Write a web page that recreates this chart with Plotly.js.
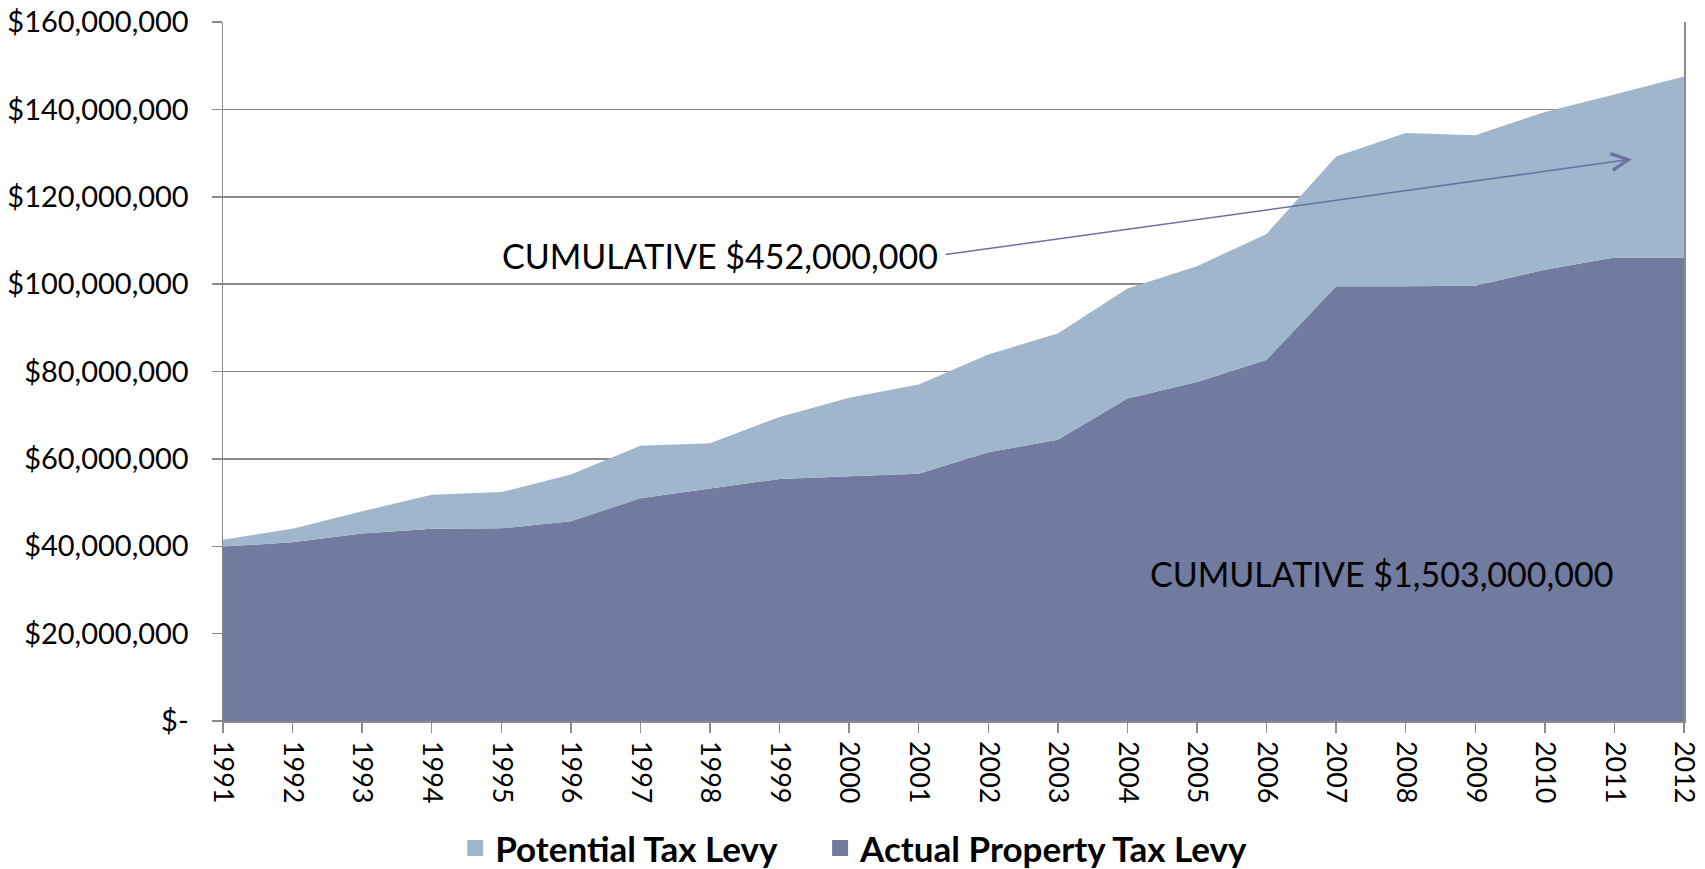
<!DOCTYPE html>
<html>
<head>
<meta charset="utf-8">
<script src="https://cdn.plot.ly/plotly-3.0.1.min.js"></script>
<style>
  html, body { margin: 0; padding: 0; background: #ffffff; }
  #chart { width: 1705px; height: 869px; }
</style>
</head>
<body>
<div id="chart"></div>
<script>
// ---- Data ----
const years = ["1991","1992","1993","1994","1995","1996","1997","1998","1999","2000","2001",
               "2002","2003","2004","2005","2006","2007","2008","2009","2010","2011","2012"];

// Actual Property Tax Levy (dollars)
const actualLevy = [39.9e6, 40.9e6, 42.9e6, 44.0e6, 44.1e6, 45.7e6, 51.0e6, 53.2e6, 55.4e6, 56.0e6, 56.6e6,
                    61.5e6, 64.4e6, 73.8e6, 77.6e6, 82.7e6, 99.5e6, 99.5e6, 99.6e6, 103.3e6, 106.1e6, 106.1e6];

// Potential Tax Levy (dollars, top of the stacked area)
const potentialLevy = [41.5e6, 44.0e6, 48.0e6, 51.8e6, 52.4e6, 56.4e6, 63.0e6, 63.6e6, 69.6e6, 74.0e6, 77.0e6,
                       83.9e6, 88.7e6, 99.0e6, 104.1e6, 111.5e6, 129.2e6, 134.6e6, 134.1e6, 139.4e6, 143.4e6, 147.5e6];

const yTickVals = [0, 20e6, 40e6, 60e6, 80e6, 100e6, 120e6, 140e6, 160e6];
const yTickText = ["$-", "$20,000,000", "$40,000,000", "$60,000,000", "$80,000,000",
                   "$100,000,000", "$120,000,000", "$140,000,000", "$160,000,000"];

const seriesNames = ["Potential Tax Levy", "Actual Property Tax Levy"];
const cumulativeLabels = ["CUMULATIVE $452,000,000", "CUMULATIVE $1,503,000,000"];

// ---- Styles ----
const colPotential = "#A0B6CC";
const colActual = "#717A9F";
const colAxis = "#8A8A8A";
const colArrow = "#6B71A0";
const fontFam = "Lato, 'Open Sans', sans-serif";
const legendFont = { family: fontFam, size: 35, color: "#000000", weight: "bold" };

const traces = [
  {
    x: years, y: actualLevy, type: "scatter", mode: "none",
    fill: "tozeroy", fillcolor: colActual, name: seriesNames[1],
    showlegend: false, hoverinfo: "skip"
  },
  {
    x: years, y: potentialLevy, type: "scatter", mode: "none",
    fill: "tonexty", fillcolor: colPotential, name: seriesNames[0],
    showlegend: false, hoverinfo: "skip"
  },
  // legend proxies (square swatches)
  {
    x: [null], y: [null], type: "scatter", mode: "markers", name: seriesNames[0],
    marker: { symbol: "square", size: 16, color: colPotential }, hoverinfo: "skip",
    legend: "legend"
  },
  {
    x: [null], y: [null], type: "scatter", mode: "markers", name: seriesNames[1],
    marker: { symbol: "square", size: 16, color: colActual }, hoverinfo: "skip",
    legend: "legend2"
  }
];

const layout = {
  width: 1705, height: 869,
  paper_bgcolor: "#ffffff", plot_bgcolor: "#ffffff",
  margin: { l: 223, r: 21, t: 22, b: 147.5, pad: 0 },
  font: { family: fontFam, color: "#000000" },
  showlegend: true,
  legend: {
    orientation: "h", xref: "container", yref: "container",
    x: 0.267, xanchor: "left", y: 0.024, yanchor: "middle",
    font: legendFont, itemwidth: 30
  },
  legend2: {
    orientation: "h", xref: "container", yref: "container",
    x: 0.481, xanchor: "left", y: 0.024, yanchor: "middle",
    font: legendFont, itemwidth: 30
  },
  xaxis: {
    type: "category", range: [0, years.length - 1],
    showgrid: false, zeroline: false,
    showline: true, linecolor: colAxis, linewidth: 1.5, mirror: false,
    ticks: "outside", ticklen: 10, tickcolor: colAxis, tickwidth: 1.5,
    tickangle: 90, tickfont: { family: fontFam, size: 27, color: "#000000" },
    ticklabelstandoff: 3, fixedrange: true
  },
  yaxis: {
    range: [0, 160e6], tickvals: yTickVals, ticktext: yTickText,
    showgrid: true, gridcolor: colAxis, gridwidth: 1.5, zeroline: false,
    showline: true, linecolor: colAxis, linewidth: 1.5, mirror: true,
    ticks: "outside", ticklen: 10, tickcolor: colAxis, tickwidth: 1.5,
    tickfont: { family: fontFam, size: 29, color: "#000000" },
    ticklabelstandoff: 17, fixedrange: true
  },
  annotations: [
    {
      xref: "x", yref: "y", axref: "x", ayref: "y",
      x: 20.25, y: 128.6e6, ax: 10.3, ay: 106.6e6,
      text: cumulativeLabels[0], showarrow: true,
      xanchor: "right", yanchor: "middle",
      arrowhead: 5, arrowsize: 2.2, arrowwidth: 1.5, arrowcolor: colArrow,
      startstandoff: 6,
      font: { family: fontFam, size: 34, color: "#000000" }
    },
    {
      xref: "x", yref: "y",
      x: 16.65, y: 33.8e6,
      text: cumulativeLabels[1], showarrow: false,
      xanchor: "center", yanchor: "middle",
      font: { family: fontFam, size: 34, color: "#000000" }
    }
  ]
};

Plotly.newPlot("chart", traces, layout, { displayModeBar: false, staticPlot: true });
</script>
</body>
</html>
